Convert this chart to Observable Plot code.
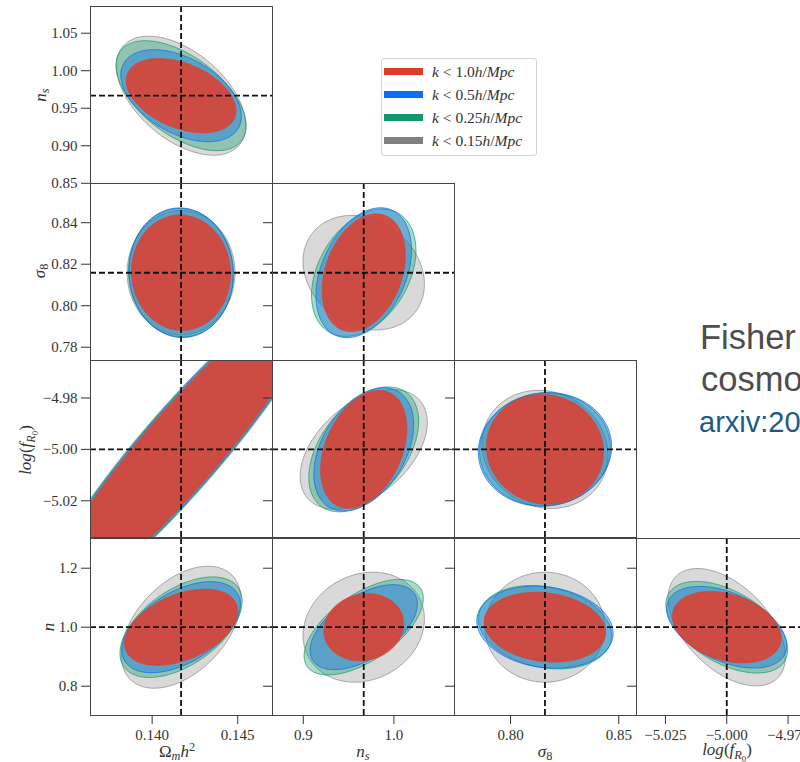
<!DOCTYPE html>
<html><head><meta charset="utf-8">
<script src="https://cdn.jsdelivr.net/npm/d3@7"></script>
<script src="https://cdn.jsdelivr.net/npm/@observablehq/plot@0.6"></script>
<style>
html,body{margin:0;padding:0;background:#fff;overflow:hidden;}
#root{position:relative;width:800px;height:762px;overflow:hidden;background:#fff;}
.lab{position:absolute;font-family:"Liberation Serif",serif;font-size:17px;color:#333;line-height:1;white-space:nowrap;}
.lab sub,.leg sub{font-size:72%;vertical-align:-0.3em;line-height:0;}
.lab sup{font-size:72%;vertical-align:0.45em;line-height:0;}
.legend{position:absolute;box-sizing:border-box;border:1px solid #d4d4d4;border-radius:3px;background:#fff;}
.sw{position:absolute;height:7px;width:39px;}
.leg{position:absolute;font-family:"Liberation Serif",serif;font-size:15.5px;color:#333;line-height:1;white-space:nowrap;transform:translateY(-50%);}
.slide{position:absolute;font-family:"Liberation Sans",Arial,sans-serif;white-space:nowrap;}
</style></head>
<body><div id="root"></div>
<script>
// ---------- data ----------
const paramNames = ["Ωmh²", "n_s", "σ8", "log(fR0)", "n"];
const fiducial = [0.14169, 0.9667, 0.8159, -5.0, 1.0];

const xTicks = [[0.140, 0.145], [0.9, 1.0], [0.80, 0.85], [-5.025, -5.000, -4.975]];
const xTickLabels = [["0.140", "0.145"], ["0.9", "1.0"], ["0.80", "0.85"], ["−5.025", "−5.000", "−4.975"]];
const yTicks = [[0.85, 0.90, 0.95, 1.00, 1.05], [0.78, 0.80, 0.82, 0.84], [-5.02, -5.00, -4.98], [0.8, 1.0, 1.2]];
const yTickLabels = [["0.85", "0.90", "0.95", "1.00", "1.05"], ["0.78", "0.80", "0.82", "0.84"], ["−5.02", "−5.00", "−4.98"], ["0.8", "1.0", "1.2"]];

// corner panels: row r shows parameter r+1 on y, column c shows parameter c on x
const panelRow = [0, 1, 1, 2, 2, 2, 3, 3, 3, 3];
const panelCol = [0, 0, 1, 0, 1, 2, 0, 1, 2, 3];

const seriesNames = ["k < 1.0h/Mpc", "k < 0.5h/Mpc", "k < 0.25h/Mpc", "k < 0.15h/Mpc"];

// contour half-extents along x, along y and correlation, per panel (order as panelRow/panelCol)
const k10_sx  = [0.00321, 0.00290, 0.0460, 0.00794, 0.0477, 0.0271, 0.00331, 0.0441, 0.0281, 0.0222];
const k10_sy  = [0.0496, 0.02785, 0.0284, 0.0607, 0.0230, 0.0214, 0.1295, 0.1142, 0.1186, 0.1214];
const k10_rho = [-0.40, -0.02, 0.30, 0.93, 0.35, -0.05, 0.42, 0.10, -0.15, -0.30];

const k05_sx  = [0.00352, 0.00304, 0.0527, 0.00818, 0.0551, 0.0308, 0.00346, 0.0592, 0.0315, 0.0245];
const k05_sy  = [0.0613, 0.03123, 0.0313, 0.0625, 0.0240, 0.0221, 0.1542, 0.1441, 0.1390, 0.1383];
const k05_rho = [-0.45, -0.03, 0.35, 0.93, 0.40, 0.05, 0.50, 0.55, -0.15, -0.45];

const k025_sx  = [0.00380, 0.00307, 0.0576, 0.00830, 0.0606, 0.0302, 0.00357, 0.0658, 0.0308, 0.0248];
const k025_sy  = [0.0733, 0.0310, 0.0307, 0.0634, 0.0243, 0.0220, 0.1705, 0.1620, 0.1414, 0.1553];
const k025_rho = [-0.55, -0.02, 0.35, 0.93, 0.45, 0.03, 0.52, 0.60, -0.20, -0.50];

const k015_sx  = [0.00378, 0.00315, 0.0670, 0.00845, 0.0702, 0.0291, 0.00350, 0.0670, 0.0277, 0.0239];
const k015_sy  = [0.0793, 0.0300, 0.0276, 0.0646, 0.0233, 0.0230, 0.2068, 0.1864, 0.1864, 0.1990];
const k015_rho = [-0.50, 0.00, -0.20, 0.93, 0.45, -0.10, 0.45, 0.15, 0.00, -0.50];

// ---------- layout / style config ----------
const colLeft = [90, 272, 454, 636];
const rowTop = [6, 183, 360, 538];
const PW = 182, PH = 177;
const xDomains = [[0.1364, 0.14703], [0.866, 1.0669], [0.7741, 0.8582], [-5.0368, -4.9626]];
const yDomains = [[0.8497, 1.0856], [0.7736, 0.8589], [-5.0343, -4.9654], [0.7007, 1.3007]];

const seriesStyle = [
  {fill: "#e03c2c", fillOpacity: 0.85, stroke: "#e03c2c", strokeOpacity: 0.85, strokeWidth: 0.6},
  {fill: "#0a6fe8", fillOpacity: 0.4, stroke: "#0a6fe8", strokeOpacity: 0.75, strokeWidth: 1},
  {fill: "#0e9a6a", fillOpacity: 0.36, stroke: "#0e9a6a", strokeOpacity: 0.7, strokeWidth: 1},
  {fill: "#808080", fillOpacity: 0.3, stroke: "#808080", strokeOpacity: 0.65, strokeWidth: 1}
];
const legendColors = ["#e03a28", "#0c6ff0", "#10966a", "#808080"];
const seriesData = [
  [k10_sx, k10_sy, k10_rho],
  [k05_sx, k05_sy, k05_rho],
  [k025_sx, k025_sy, k025_rho],
  [k015_sx, k015_sy, k015_rho]
];

function ellipse(cx, cy, sx, sy, rho) {
  const n = 200, s = Math.sqrt(1 - rho * rho), pts = [];
  for (let i = 0; i < n; i++) {
    const t = 2 * Math.PI * i / n;
    pts.push({x: cx + sx * Math.cos(t), y: cy + sy * (rho * Math.cos(t) + s * Math.sin(t))});
  }
  return pts;
}
function fmt(ticks, labels) {
  return d => { const i = ticks.findIndex(t => Math.abs(t - d) < 1e-9); return i < 0 ? "" : labels[i]; };
}

const root = document.getElementById("root");

panelRow.forEach((r, p) => {
  const c = panelCol[p];
  const px = c, py = r + 1;
  const cx = fiducial[px], cy = fiducial[py];
  const marks = [];
  for (let s = seriesData.length - 1; s >= 0; s--) {
    const [sx, sy, rho] = seriesData[s];
    marks.push(Plot.line(ellipse(cx, cy, sx[p], sy[p], rho[p]), {
      x: "x", y: "y", curve: "linear-closed", clip: true, ...seriesStyle[s]
    }));
  }
  marks.push(Plot.ruleX([cx], {stroke: "#111", strokeWidth: 1.8, strokeDasharray: "6,3"}));
  marks.push(Plot.ruleY([cy], {stroke: "#111", strokeWidth: 1.8, strokeDasharray: "6,3"}));
  marks.push(Plot.frame({stroke: "#444", strokeWidth: 1}));
  const bottom = r === 3;
  const svg = Plot.plot({
    width: PW, height: PH, margin: 0,
    style: {overflow: "visible", background: "transparent", fontFamily: "'Liberation Serif', serif", fontSize: "15px", color: "#333"},
    x: bottom
      ? {domain: xDomains[c], ticks: xTicks[c], tickFormat: fmt(xTicks[c], xTickLabels[c]), tickSize: 9, tickPadding: 5, label: null}
      : {domain: xDomains[c], axis: null},
    y: {domain: yDomains[r], ticks: yTicks[r], tickFormat: c === 0 ? fmt(yTicks[r], yTickLabels[r]) : () => "", tickSize: 9, tickPadding: 4, label: null},
    marks
  });
  svg.style.position = "absolute";
  svg.style.left = colLeft[c] + "px";
  svg.style.top = rowTop[r] + "px";
  root.appendChild(svg);
});

// axis labels
function addLabel(html, x, y, rotate) {
  const d = document.createElement("div");
  d.className = "lab";
  d.innerHTML = html;
  d.style.left = x + "px";
  d.style.top = y + "px";
  d.style.transform = "translate(-50%,-50%)" + (rotate ? " rotate(-90deg)" : "");
  root.appendChild(d);
}
const labelHtml = [
  "Ω<sub><i>m</i></sub><i>h</i><sup>2</sup>",
  "<i>n</i><sub><i>s</i></sub>",
  "<i>σ</i><sub>8</sub>",
  "<i>log</i>(<i>f</i><sub><i>R</i><sub>0</sub></sub>)",
  "<i>n</i>"
];
addLabel(labelHtml[1], 40, 95, true);
addLabel(labelHtml[2], 39, 271, true);
addLabel(labelHtml[3], 26, 450, true);
addLabel(labelHtml[4], 48, 627, true);
addLabel(labelHtml[0], 177, 751, false);
addLabel(labelHtml[1], 363, 751, false);
addLabel(labelHtml[2], 545, 751, false);
addLabel(labelHtml[3], 727, 750, false);

// legend
const leg = document.createElement("div");
leg.className = "legend";
Object.assign(leg.style, {left: "381px", top: "58px", width: "156px", height: "98px"});
root.appendChild(leg);
const legHtml = [
  "<i>k</i> &lt; 1.0<i>h</i>/<i>Mpc</i>",
  "<i>k</i> &lt; 0.5<i>h</i>/<i>Mpc</i>",
  "<i>k</i> &lt; 0.25<i>h</i>/<i>Mpc</i>",
  "<i>k</i> &lt; 0.15<i>h</i>/<i>Mpc</i>"
];
seriesNames.forEach((name, i) => {
  const yc = 12.5 + i * 23.1;
  const sw = document.createElement("div");
  sw.className = "sw";
  Object.assign(sw.style, {left: "2px", top: (yc - 3.5) + "px", background: legendColors[i]});
  leg.appendChild(sw);
  const t = document.createElement("div");
  t.className = "leg";
  t.innerHTML = legHtml[i];
  t.title = name;
  Object.assign(t.style, {left: "50px", top: yc + "px"});
  leg.appendChild(t);
});

// slide overlay text
function addSlide(text, x, baseline, size, color) {
  const d = document.createElement("div");
  d.className = "slide";
  d.textContent = text;
  Object.assign(d.style, {left: x + "px", top: (baseline - size * 0.905) + "px", fontSize: size + "px", lineHeight: (size * 0.905 + size * 0.212) + "px", color});
  root.appendChild(d);
}
addSlide("Fisher", 700, 349, 34.5, "#4d4d4d");
addSlide("cosmo", 701, 391, 34.5, "#4d4d4d");
addSlide("arxiv:20", 699, 432, 29, "#1d5a8a");
</script></body></html>
